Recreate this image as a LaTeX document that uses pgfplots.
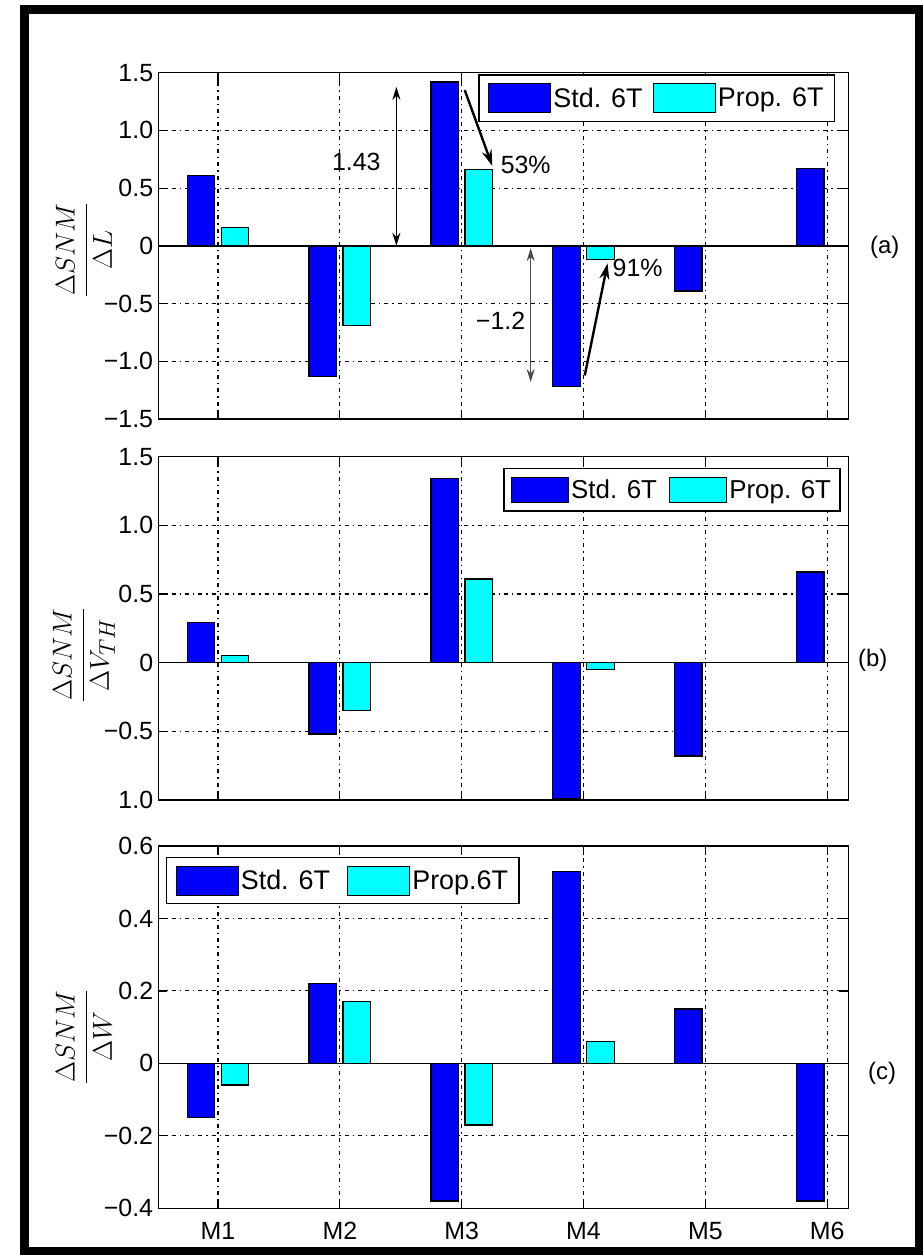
\documentclass[border=0pt]{standalone}
\usepackage{graphicx}
\usepackage{fontspec}
\setmainfont{Liberation Sans}
\usepackage{pgfplots}
\pgfplotsset{compat=1.18}
\usetikzlibrary{arrows.meta}

\definecolor{stdblue}{rgb}{0,0,1}
\definecolor{propcyan}{rgb}{0,1,1}

\def\legw{62bp}\def\legh{14.5bp}

\pgfplotsset{
  panel/.style={
    scale only axis, width=690bp, xmin=0.51, xmax=6.173,
    anchor=south west,
    axis line style={black, line width=1.4bp},
    tick align=inside, tick pos=both,
    major tick length=9bp,
    tick style={black, line width=1.2bp},
    xtick={1,2,3,4,5,6},
    grid=major,
    major grid style={black, line width=1.1bp, dash pattern=on 4bp off 4bp on 1.3bp off 4bp},
    tick label style={font=\fontsize{25}{28}\selectfont},
    yticklabel style={anchor=east, inner sep=0pt, xshift=-5bp},
    xticklabel style={inner sep=0pt, yshift=-14bp},
    legend columns=-1,
    legend style={draw=black, line width=1.3bp, font=\fontsize{27}{29}\selectfont,
      inner xsep=9bp, inner ysep=8bp,
      cells={inner sep=3bp}},
  },
  boxleg/.style={legend image code/.code={\draw[##1] (0bp,-\legh) rectangle (\legw,\legh);}},
  stdbar/.style={ybar, bar width=0.226, bar shift=-0.14, fill=stdblue, draw=black, line width=1.3bp, boxleg},
  propbar/.style={ybar, bar width=0.226, bar shift=0.14, fill=propcyan, draw=black, line width=1.3bp, boxleg},
}

\newcommand{\ylab}[1]{\scalebox{1.1}{\fontsize{24.88}{30}\selectfont$\displaystyle#1$}}

\begin{document}
\begin{tikzpicture}
\useasboundingbox (0,0) rectangle (923bp,1255bp);
\draw[line width=9bp] (24bp,3.5bp) rectangle (919bp,1245bp);

% ---------------- (a)
\begin{axis}[panel, at={(158.3bp,836bp)}, height=346.3bp,
  ymin=-1.5, ymax=1.5,
  ytick={-1.5,-1,-0.5,0,0.5,1,1.5},
  yticklabels={−1.5,−1.0,−0.5,0,0.5,1.0,1.5},
  xticklabels=\empty,
  legend style={at={(0.981,0.995)}, anchor=north east,
    /tikz/every even column/.append style={column sep=8bp}}]
\addplot[stdbar] coordinates {(1,0.61) (2,-1.13) (3,1.42) (4,-1.22) (5,-0.39) (6,0.67)};
\addplot[propbar] coordinates {(1,0.16) (2,-0.69) (3,0.66) (4,-0.12)};
\legend{Std. 6T, Prop. 6T}
\draw[black, line width=1.5bp] (axis cs:0.51,0) -- (axis cs:6.173,0);
% annotations
\draw[black, line width=1.6bp, {Stealth[length=13bp,width=8bp]}-{Stealth[length=13bp,width=8bp]}] (axis cs:2.464,0) -- (axis cs:2.464,1.377);
\node[font=\fontsize{25}{28}\selectfont] at (axis cs:2.135,0.727) {1.43};
\draw[black!70, line width=1bp, {Stealth[length=13bp,width=8bp]}-{Stealth[length=13bp,width=8bp]}] (axis cs:3.566,-0.02) -- (axis cs:3.566,-1.18);
\node[font=\fontsize{25}{28}\selectfont] at (axis cs:3.319,-0.651) {−1.2};
\draw[black, line width=2.4bp, -{Stealth[length=16bp,width=10bp]}] (axis cs:3.025,1.349) -- (axis cs:3.251,0.692);
\node[font=\fontsize{25}{28}\selectfont, anchor=west, inner sep=0pt] at (axis cs:3.319,0.70) {53\%};
\draw[black, line width=2.4bp, -{Stealth[length=16bp,width=10bp]}] (axis cs:4.010,-1.123) -- (axis cs:4.197,-0.152);
\node[font=\fontsize{25}{28}\selectfont, anchor=west, inner sep=0pt] at (axis cs:4.238,-0.195) {91\%};
\end{axis}

% ---------------- (b)
\def\legw{57bp}\def\legh{12.5bp}
\begin{axis}[panel, at={(158.3bp,455bp)}, height=343.3bp,
  ymin=-1, ymax=1.5,
  ytick={-1,-0.5,0,0.5,1,1.5},
  yticklabels={1.0,−0.5,0,0.5,1.0,1.5},
  xticklabels=\empty,
  legend style={at={(0.989,0.967)}, anchor=north east,
    font=\fontsize{26}{28}\selectfont, inner xsep=7bp,
    /tikz/every even column/.append style={column sep=10bp}}]
\addplot[stdbar] coordinates {(1,0.29) (2,-0.52) (3,1.34) (4,-0.99) (5,-0.68) (6,0.66)};
\addplot[propbar] coordinates {(1,0.05) (2,-0.35) (3,0.61) (4,-0.05)};
\legend{Std. 6T, Prop. 6T}
\draw[black, line width=1.5bp] (axis cs:0.51,0) -- (axis cs:6.173,0);
\end{axis}

% ---------------- (c)
\def\legw{62bp}\def\legh{14.5bp}
\begin{axis}[panel, at={(158.3bp,46.7bp)}, height=362.3bp,
  ymin=-0.4, ymax=0.6,
  ytick={-0.4,-0.2,0,0.2,0.4,0.6},
  yticklabels={−0.4,−0.2,0,0.2,0.4,0.6},
  xticklabels={M1,M2,M3,M4,M5,M6},
  legend style={at={(0.011,0.970)}, anchor=north west,
    /tikz/every even column/.append style={column sep=15bp}}]
\addplot[stdbar] coordinates {(1,-0.15) (2,0.22) (3,-0.38) (4,0.53) (5,0.15) (6,-0.38)};
\addplot[propbar] coordinates {(1,-0.06) (2,0.17) (3,-0.17) (4,0.06)};
\legend{Std. 6T, Prop.6T}
\draw[black, line width=1.5bp] (axis cs:0.51,0) -- (axis cs:6.173,0);
\end{axis}

% y labels
\node[rotate=90] at (84bp,1005bp) {\ylab{\frac{\Delta SNM}{\Delta L}}};
\node[rotate=90] at (84bp,600bp) {\ylab{\frac{\Delta SNM}{\Delta V_{TH}}}};
\node[rotate=90] at (84bp,218bp) {\ylab{\frac{\Delta SNM}{\Delta W}}};

% panel labels
\node[anchor=west, inner sep=0pt, font=\fontsize{24}{28}\selectfont] at (870bp,1008bp) {(a)};
\node[anchor=west, inner sep=0pt, font=\fontsize{24}{28}\selectfont] at (858bp,595bp) {(b)};
\node[anchor=west, inner sep=0pt, font=\fontsize{24}{28}\selectfont] at (868bp,182bp) {(c)};
\end{tikzpicture}
\end{document}
